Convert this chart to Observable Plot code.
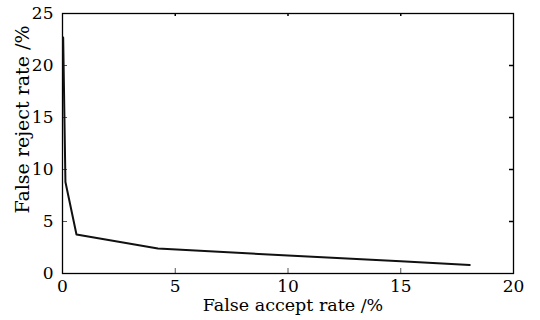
<!DOCTYPE html>
<html><head><meta charset="utf-8">
<script src="https://cdn.jsdelivr.net/npm/d3@7"></script>
<script src="https://cdn.jsdelivr.net/npm/@observablehq/plot@0.6"></script>
<style>html,body{margin:0;padding:0;background:#fff} svg text{font-family:"DejaVu Serif","Liberation Serif",serif !important}</style>
</head><body><div id="chart"></div>
<script>
const far = [0.03, 0.13, 0.62, 4.23, 10, 15, 18.06];
const frr = [22.7, 8.8, 3.75, 2.4, 1.73, 1.18, 0.82];
const xTicks = [0, 5, 10, 15, 20];
const yTicks = [0, 5, 10, 15, 20, 25];
const xLabel = "False accept rate /%";
const yLabel = "False reject rate /%";

const FONT = "DejaVu Serif, Liberation Serif, serif";
const W = 540, H = 320, mL = 62, mR = 27, mT = 13, mB = 47;
const ph = H - mT - mB, pw = W - mL - mR;
const data = far.map((x, i) => ({x, y: frr[i]}));
const xIn = xTicks.filter(t => t > 0 && t < 20);
const yIn = yTicks.filter(t => t > 0 && t < 25);

const chart = Plot.plot({
  width: W, height: H,
  marginLeft: mL, marginRight: mR, marginTop: mT, marginBottom: mB,
  style: {fontFamily: FONT, fontSize: "17px", color: "#000", background: "#fff"},
  x: {domain: [0, 20]},
  y: {domain: [0, 25]},
  marks: [
    Plot.axisX(xTicks, {tickSize: 0, tickPadding: 6, label: null, fontSize: 17, fontFamily: FONT}),
    Plot.axisY(yTicks, {tickSize: 0, tickPadding: 9, label: null, fontSize: 17, fontFamily: FONT}),
    Plot.tickX(xIn, {x: d => d, insetTop: ph - 5, stroke: "#555", strokeWidth: 1}),
    Plot.tickX(xIn, {x: d => d, insetBottom: ph - 3, stroke: "#000", strokeWidth: 1.5}),
    Plot.tickY(yIn, {y: d => d, insetRight: pw - 5, stroke: "#555", strokeWidth: 1}),
    Plot.tickY(yIn, {y: d => d, insetLeft: pw - 4, stroke: "#000", strokeWidth: 1.5}),
    Plot.frame({stroke: "#000", strokeWidth: 1.3}),
    Plot.line(data, {x: "x", y: "y", stroke: "#111", strokeWidth: 2}),
    Plot.text([xLabel], {text: d => d, frameAnchor: "bottom", textAnchor: "middle", dy: 37, dx: 5, fontSize: 17.5, fontFamily: FONT}),
    Plot.text([yLabel], {text: d => d, frameAnchor: "left", textAnchor: "middle", rotate: -90, dx: -40, dy: -24, fontSize: 19, fontFamily: FONT})
  ]
});
document.getElementById("chart").appendChild(chart);
</script>
</body></html>
